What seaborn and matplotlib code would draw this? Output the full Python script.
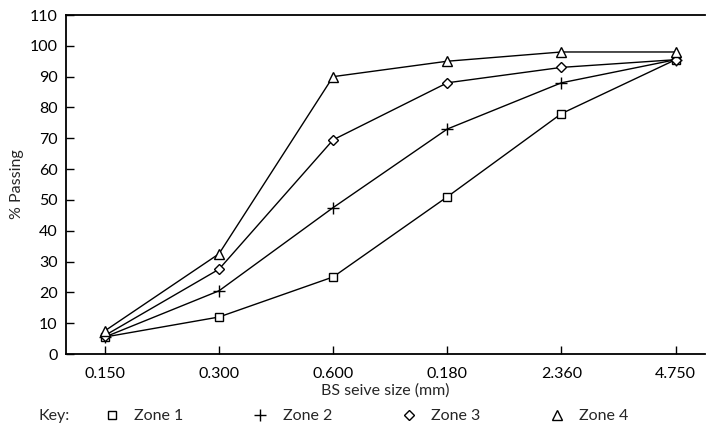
import matplotlib
matplotlib.use("Agg")
import matplotlib.pyplot as plt
from matplotlib.lines import Line2D
import seaborn as sns
import pandas as pd

sieve_sizes = ["0.150", "0.300", "0.600", "0.180", "2.360", "4.750"]
zone1 = [5.5, 12, 25, 51, 78, 95.5]
zone2 = [5.5, 20.5, 47.5, 73, 88, 95.5]
zone3 = [6, 27.5, 69.5, 88, 93, 95.5]
zone4 = [7.5, 32.5, 90, 95, 98, 98]
zone_names = ["Zone 1", "Zone 2", "Zone 3", "Zone 4"]
y_ticks = list(range(0, 111, 10))

sns.set_theme(style="white")
plt.rcParams["font.family"] = ["Lato", "DejaVu Sans"]

fig = plt.figure(figsize=(7.06, 4.28), dpi=100)
ax = fig.add_axes([66 / 706, 1 - 354 / 428, 1 - 66 / 706 - 0.001, (354 - 15) / 428])

markers = ["s", "+", "D", "^"]
msizes = [6, 9, 5.5, 7]
all_series = [zone1, zone2, zone3, zone4]
for name, vals, m, ms in zip(zone_names, all_series, markers, msizes):
    df = pd.DataFrame({"size": sieve_sizes, "passing": vals})
    sns.lineplot(data=df, x="size", y="passing", ax=ax, color="black",
                 linewidth=1.0, marker=m, markersize=ms,
                 markerfacecolor="white", markeredgecolor="black",
                 markeredgewidth=1.0, sort=False)

ax.set_xlim(-0.34, 5.26)
ax.set_ylim(0, 110)
ax.set_yticks(y_ticks)
ax.set_xticks(range(len(sieve_sizes)))
ax.set_xticklabels(sieve_sizes)

for side in ["left", "bottom", "top"]:
    ax.spines[side].set_visible(True)
    ax.spines[side].set_color("black")
    ax.spines[side].set_linewidth(1.3)
ax.spines["right"].set_visible(False)

ax.tick_params(axis="both", direction="in", length=6, width=1, colors="black",
               labelsize=11.5, left=True, bottom=True)
ax.tick_params(axis="x", pad=9)
ax.tick_params(axis="y", pad=6)
ax.set_xlabel("BS seive size (mm)", fontsize=11.5, labelpad=2)
ax.set_ylabel("% Passing", fontsize=11.5, labelpad=4)

handles = [Line2D([], [], linestyle="none", marker=m, markersize=ms,
                  markerfacecolor="white", markeredgecolor="black",
                  markeredgewidth=1.0) for m, ms in zip(markers, msizes)]
fig.legend(handles, zone_names, loc="center left", ncol=4,
           bbox_to_anchor=(104 / 706, 1 - 416 / 428), frameon=False,
           fontsize=11.5, handlelength=1.0, handletextpad=0.9,
           columnspacing=4.3, borderpad=0, borderaxespad=0)
fig.text(38 / 706, 1 - 416 / 428, "Key:", fontsize=11.5, va="center", ha="left")

fig.savefig("out.png", dpi=100)
